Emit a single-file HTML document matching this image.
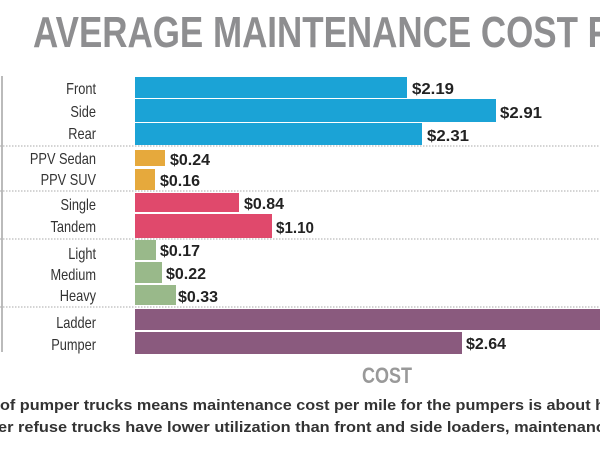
<!DOCTYPE html>
<html><head><style>body{margin:0;background:#fff;}svg{display:block}</style></head>
<body>
<svg width="600" height="450" xmlns="http://www.w3.org/2000/svg" font-family="Liberation Sans, sans-serif">
<text x="33" y="47" font-size="44" font-weight="bold" fill="#8e8e90" textLength="578" lengthAdjust="spacingAndGlyphs">AVERAGE MAINTENANCE COST P</text>
<line x1="2" y1="76" x2="2" y2="352" stroke="#bbb" stroke-width="2"/>
<g stroke="#aaa" stroke-dasharray="1.5,1.5" stroke-width="1">
<line x1="0" y1="146" x2="600" y2="146"/><line x1="0" y1="191" x2="600" y2="191"/>
<line x1="0" y1="239" x2="600" y2="239"/><line x1="0" y1="307" x2="600" y2="307"/>
</g>
<g>
<rect x="135" y="77" width="272" height="21" fill="#1ba3d6"/>
<rect x="135" y="99" width="361" height="23" fill="#1ba3d6"/>
<rect x="135" y="123" width="287" height="22" fill="#1ba3d6"/>
<rect x="135" y="150" width="30" height="16" fill="#e6a93c"/>
<rect x="135" y="169" width="20" height="21" fill="#e6a93c"/>
<rect x="135" y="193" width="104" height="19" fill="#e0496c"/>
<rect x="135" y="214" width="137" height="24" fill="#e0496c"/>
<rect x="135" y="240" width="21" height="20" fill="#99b98a"/>
<rect x="135" y="262" width="27" height="21" fill="#99b98a"/>
<rect x="135" y="285" width="41" height="20" fill="#99b98a"/>
<rect x="135" y="309" width="465" height="21" fill="#8a5a7e"/>
<rect x="135" y="332" width="327" height="22" fill="#8a5a7e"/>
</g>
<g font-size="16" fill="#333" text-anchor="end" transform="translate(96,0) scale(0.8,1)">
<text x="0" y="94">Front</text><text x="0" y="117">Side</text><text x="0" y="139">Rear</text>
<text x="0" y="164">PPV Sedan</text><text x="0" y="185">PPV SUV</text>
<text x="0" y="210">Single</text><text x="0" y="232">Tandem</text>
<text x="0" y="259">Light</text><text x="0" y="280">Medium</text><text x="0" y="301">Heavy</text>
<text x="0" y="328">Ladder</text><text x="0" y="350">Pumper</text>
</g>
<g font-size="16" font-weight="bold" fill="#222">
<text x="412" y="94" textLength="42" lengthAdjust="spacingAndGlyphs">$2.19</text>
<text x="500" y="118" textLength="42" lengthAdjust="spacingAndGlyphs">$2.91</text>
<text x="427" y="141" textLength="42" lengthAdjust="spacingAndGlyphs">$2.31</text>
<text x="170" y="165" textLength="40" lengthAdjust="spacingAndGlyphs">$0.24</text>
<text x="160" y="186" textLength="40" lengthAdjust="spacingAndGlyphs">$0.16</text>
<text x="244" y="209" textLength="40" lengthAdjust="spacingAndGlyphs">$0.84</text>
<text x="276" y="233" textLength="38" lengthAdjust="spacingAndGlyphs">$1.10</text>
<text x="160" y="256" textLength="40" lengthAdjust="spacingAndGlyphs">$0.17</text>
<text x="166" y="279" textLength="40" lengthAdjust="spacingAndGlyphs">$0.22</text>
<text x="178" y="302" textLength="40" lengthAdjust="spacingAndGlyphs">$0.33</text>
<text x="466" y="349" textLength="40" lengthAdjust="spacingAndGlyphs">$2.64</text>
</g>
<text x="362" y="383" font-size="22" font-weight="bold" fill="#999" textLength="50" lengthAdjust="spacingAndGlyphs">COST</text>
<g font-size="15" font-weight="bold" fill="#333">
<text x="0" y="410" textLength="605" lengthAdjust="spacingAndGlyphs">of pumper trucks means maintenance cost per mile for the pumpers is about h</text>
<text x="-2" y="432" textLength="607" lengthAdjust="spacingAndGlyphs">er refuse trucks have lower utilization than front and side loaders, maintenanc</text>
</g>
</svg>
</body></html>
